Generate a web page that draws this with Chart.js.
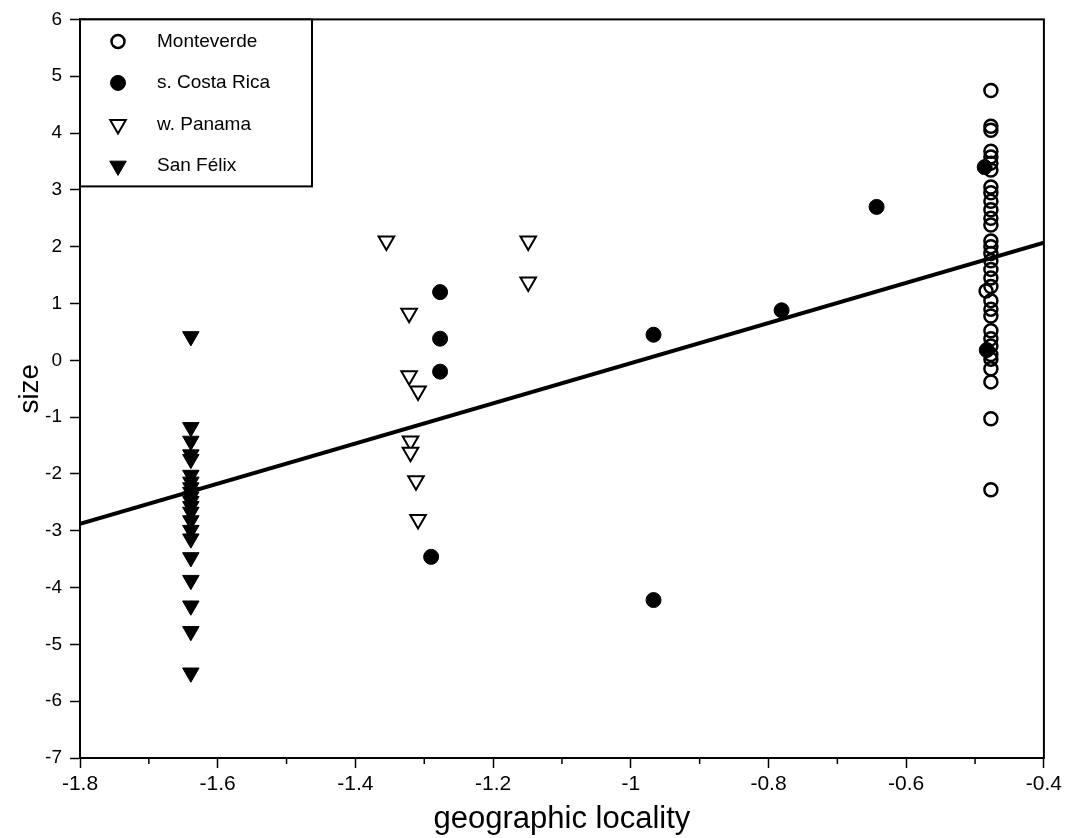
<!DOCTYPE html>
<html>
<head>
<meta charset="utf-8">
<script src="https://cdn.jsdelivr.net/npm/chart.js@4.4.0/dist/chart.umd.min.js"></script>
<style>
  html, body { margin: 0; padding: 0; background: #fff; }
  #wrap { width: 1066px; height: 838px; }
</style>
</head>
<body>
<div id="wrap"><canvas id="chartSize"></canvas></div>
<script>
// values
const xTicks = [-1.8, -1.6, -1.4, -1.2, -1, -0.8, -0.6, -0.4];
const xMinorTicks = [-1.7, -1.5, -1.3, -1.1, -0.9, -0.7, -0.5];
const yTicks = [-7, -6, -5, -4, -3, -2, -1, 0, 1, 2, 3, 4, 5, 6];

const monteverdeX = [-0.477, -0.477, -0.477, -0.477, -0.477, -0.477, -0.477, -0.477, -0.477, -0.477,
  -0.477, -0.477, -0.477, -0.477, -0.477, -0.477, -0.477, -0.477, -0.477, -0.477,
  -0.484, -0.477, -0.477, -0.477, -0.477, -0.477, -0.477, -0.477, -0.477, -0.477,
  -0.477, -0.477, -0.477];
const monteverdeY = [4.75, 4.12, 4.05, 3.68, 3.58, 3.47, 3.35, 3.05, 2.95, 2.8,
  2.65, 2.5, 2.38, 2.1, 2.0, 1.88, 1.75, 1.6, 1.45, 1.3,
  1.22, 1.05, 0.9, 0.78, 0.52, 0.38, 0.25, 0.1, 0.02, -0.15,
  -0.38, -1.03, -2.28];

const costaRicaX = [-1.277, -1.277, -1.277, -1.29, -0.967, -0.967, -0.781, -0.643, -0.486, -0.483];
const costaRicaY = [1.2, 0.38, -0.2, -3.46, 0.45, -4.22, 0.88, 2.7, 3.4, 0.18];

const panamaX = [-1.355, -1.322, -1.322, -1.309, -1.32, -1.32, -1.312, -1.309, -1.149, -1.149];
const panamaY = [2.1, 0.83, -0.27, -0.54, -1.42, -1.62, -2.12, -2.8, 2.1, 1.38];

const sanFelixX = [-1.639, -1.639, -1.639, -1.639, -1.639, -1.639, -1.639, -1.639, -1.639, -1.639,
  -1.639, -1.639, -1.639, -1.639, -1.639, -1.639, -1.639, -1.639, -1.639, -1.639, -1.639];
const sanFelixY = [0.42, -1.18, -1.42, -1.66, -1.74, -2.02, -2.14, -2.24, -2.32, -2.4,
  -2.48, -2.57, -2.67, -2.82, -2.99, -3.14, -3.47, -3.87, -4.32, -4.77, -5.5];

const fitX = [-1.8, -0.4];
const fitY = [-2.88, 2.07];

const toPoints = (xs, ys) => xs.map((x, i) => ({ x: x, y: ys[i] }));

const FONT = '"Liberation Sans", Arial, Helvetica, sans-serif';

// frame, minor ticks and the boxed legend inside the plot
const framePlugin = {
    id: 'frame',
    afterDatasetsDraw(chart) {
        const ctx = chart.ctx;
        const a = chart.chartArea;
        const xs = chart.scales.x;
        ctx.save();
        ctx.strokeStyle = '#000';
        ctx.lineWidth = 2;
        ctx.strokeRect(a.left, a.top, a.right - a.left, a.bottom - a.top);

        ctx.lineWidth = 1.5;
        ctx.beginPath();
        xMinorTicks.forEach(v => {
            const px = xs.getPixelForValue(v);
            ctx.moveTo(px, a.bottom);
            ctx.lineTo(px, a.bottom + 6);
        });
        ctx.stroke();

        // legend
        const box = { x: a.left, y: a.top, w: 232, h: 167 };
        ctx.fillStyle = '#fff';
        ctx.fillRect(box.x, box.y, box.w, box.h);
        ctx.lineWidth = 2;
        ctx.strokeRect(box.x, box.y, box.w, box.h);
        ctx.font = '19px ' + FONT;
        ctx.textBaseline = 'middle';
        ctx.textAlign = 'left';
        chart.data.datasets.forEach((ds, i) => {
            if (ds.type === 'line') return;
            const cy = box.y + 22 + i * 41.5;
            ctx.fillStyle = ds.backgroundColor;
            ctx.strokeStyle = ds.borderColor;
            ctx.lineWidth = ds.borderWidth;
            Chart.helpers.drawPoint(ctx, {
                pointStyle: ds.pointStyle,
                rotation: ds.rotation || 0,
                radius: ds.pointRadius,
                borderWidth: ds.borderWidth
            }, box.x + 38, cy);
            ctx.fillStyle = '#000';
            ctx.fillText(ds.label, box.x + 77, cy);
        });
        ctx.restore();
    }
};

const ctx = document.getElementById('chartSize').getContext('2d');

const chartSize = new Chart(ctx, {
    type: 'scatter',
    data: {
        datasets: [{
            label: 'Monteverde',
            data: toPoints(monteverdeX, monteverdeY),
            pointStyle: 'circle',
            pointRadius: 6.5,
            borderWidth: 2.5,
            borderColor: '#000',
            backgroundColor: 'rgba(255,255,255,0)'
        }, {
            label: 's. Costa Rica',
            data: toPoints(costaRicaX, costaRicaY),
            pointStyle: 'circle',
            pointRadius: 7.5,
            borderWidth: 1,
            borderColor: '#000',
            backgroundColor: '#000'
        }, {
            label: 'w. Panama',
            data: toPoints(panamaX, panamaY),
            pointStyle: 'triangle',
            rotation: 180,
            pointRadius: 9,
            borderWidth: 2,
            borderColor: '#000',
            backgroundColor: '#fff'
        }, {
            label: 'San Félix',
            data: toPoints(sanFelixX, sanFelixY),
            pointStyle: 'triangle',
            rotation: 180,
            pointRadius: 9.5,
            borderWidth: 1,
            borderColor: '#000',
            backgroundColor: '#000'
        }, {
            type: 'line',
            label: 'fit',
            data: toPoints(fitX, fitY),
            borderColor: '#000',
            borderWidth: 4,
            pointRadius: 0,
            fill: false
        }]
    },
    options: {
        animation: false,
        responsive: true,
        maintainAspectRatio: false,
        layout: { padding: { left: 0, right: 20, top: 16, bottom: 0 } },
        plugins: {
            legend: { display: false },
            tooltip: { enabled: false }
        },
        scales: {
            x: {
                type: 'linear',
                min: -1.8,
                max: -0.4,
                afterBuildTicks: s => { s.ticks = xTicks.map(v => ({ value: v })); },
                afterFit: s => { s.height = 80; },
                grid: { drawOnChartArea: false, tickLength: 10, tickWidth: 1.5, tickColor: '#000' },
                border: { color: '#000', width: 2 },
                ticks: {
                    color: '#000', padding: 4, maxRotation: 0,
                    font: { family: FONT, size: 21 },
                    callback: v => String(v)
                },
                title: { display: true, text: 'geographic locality', color: '#000', padding: 0, font: { family: FONT, size: 31 } }
            },
            y: {
                type: 'linear',
                min: -7,
                max: 6,
                afterBuildTicks: s => { s.ticks = yTicks.map(v => ({ value: v })); },
                afterFit: s => { s.width = 80; },
                grid: { drawOnChartArea: false, tickLength: 10, tickWidth: 1.5, tickColor: '#000' },
                border: { color: '#000', width: 2 },
                ticks: { color: '#000', padding: 8, font: { family: FONT, size: 19 }, callback: v => String(v) },
                title: { display: true, text: 'size', color: '#000', padding: { top: 13, bottom: 0 }, font: { family: FONT, size: 28 } }
            }
        }
    },
    plugins: [framePlugin]
});
</script>
</body>
</html>
